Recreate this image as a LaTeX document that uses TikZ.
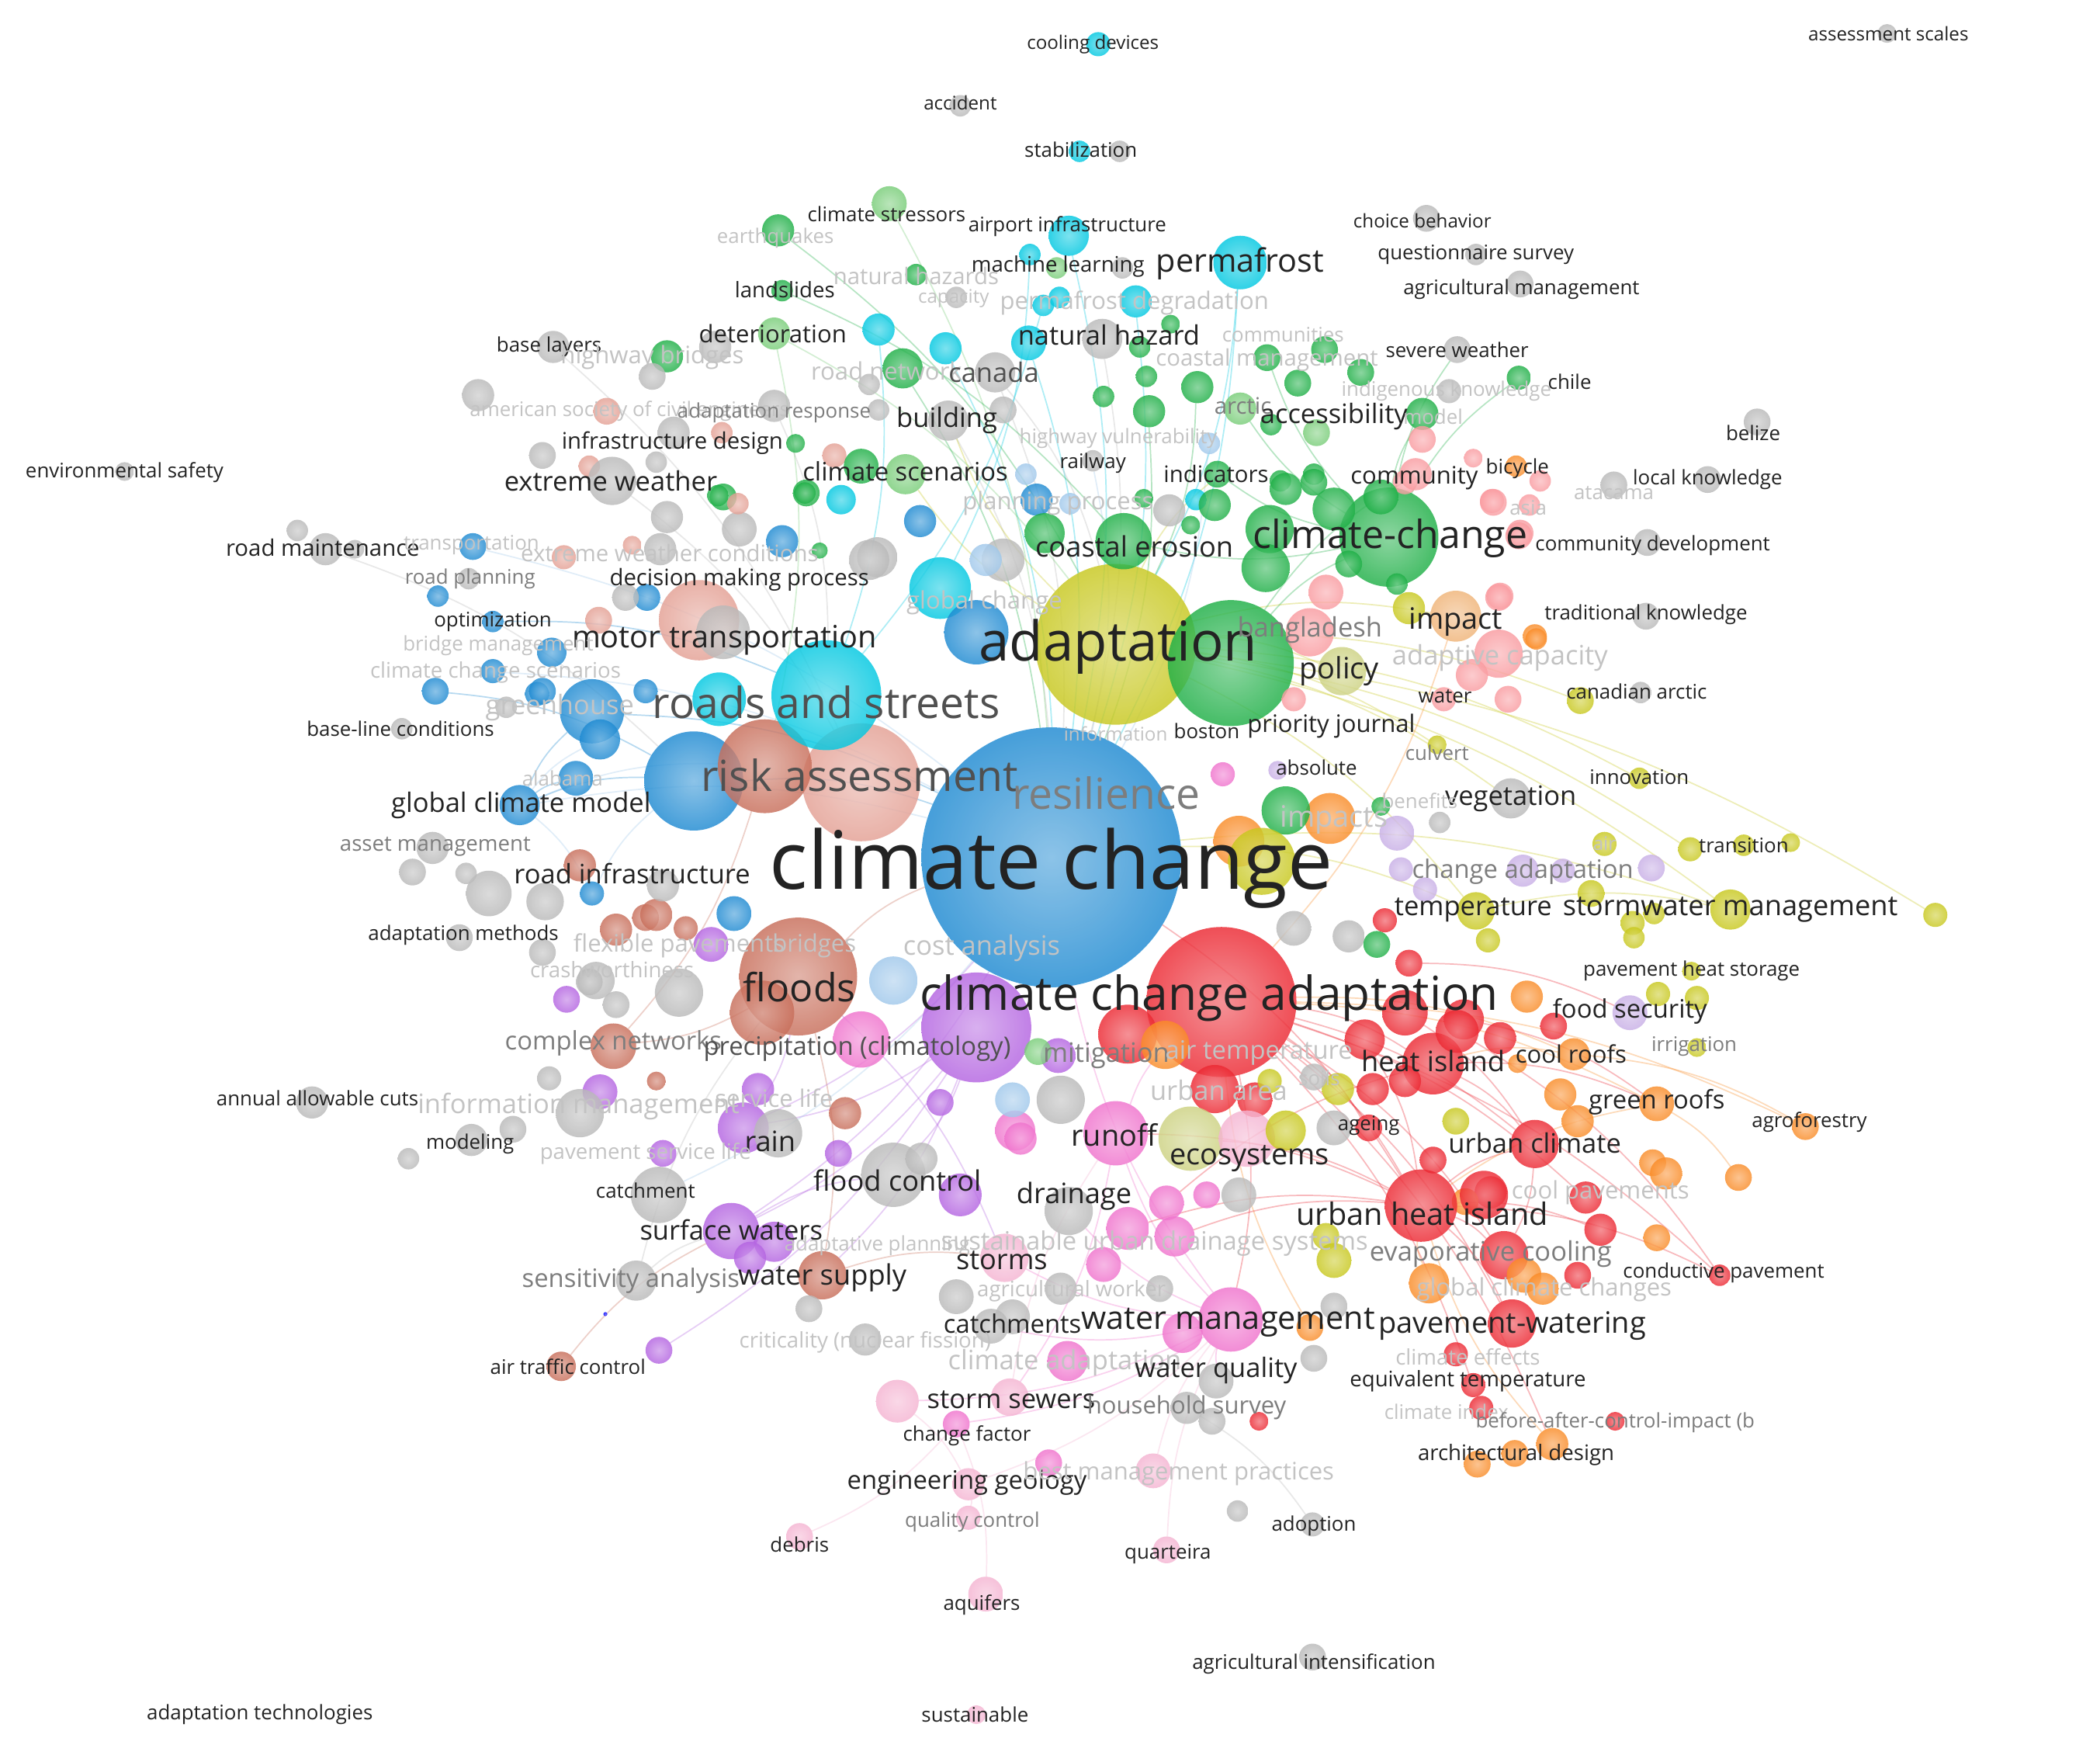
\documentclass[tikz,border=0pt]{standalone}
\usepackage{fontspec}
\setmainfont{Open Sans}
\definecolor{cR}{RGB}{236,40,50}
\definecolor{cO}{RGB}{250,140,40}
\definecolor{cY}{RGB}{200,200,30}
\definecolor{cYL}{RGB}{205,210,130}
\definecolor{cLO}{RGB}{240,180,120}
\definecolor{cG}{RGB}{30,175,70}
\definecolor{cLG}{RGB}{120,205,120}
\definecolor{cC}{RGB}{0,200,225}
\definecolor{cB}{RGB}{30,138,210}
\definecolor{cLB}{RGB}{160,200,235}
\definecolor{cP}{RGB}{180,100,225}
\definecolor{cLV}{RGB}{200,175,230}
\definecolor{cPk}{RGB}{240,115,205}
\definecolor{cLP}{RGB}{245,180,210}
\definecolor{cS}{RGB}{250,155,160}
\definecolor{cBr}{RGB}{200,110,90}
\definecolor{cLBr}{RGB}{228,160,148}
\definecolor{cGr}{RGB}{185,185,185}
\definecolor{tD}{RGB}{35,35,35}
\definecolor{tS}{RGB}{80,80,80}
\definecolor{tM}{RGB}{125,125,125}
\definecolor{tF}{RGB}{195,195,195}
\pgfdeclarelayer{bglayer}
\pgfdeclarelayer{edgelayer}
\pgfsetlayers{bglayer,edgelayer,main}
\begin{document}
\begin{tikzpicture}[x=0.5pt,y=-0.5pt,
  bub/.style={circle,inner sep=0pt,outer sep=0pt,fill opacity=0.82},
  lbl/.style={inner sep=0pt,anchor=center},
  edge/.style={line width=0.5pt,draw opacity=0.32}]
\begin{pgfonlayer}{bglayer}
\fill[white] (0,0) rectangle (1568,1315);
\end{pgfonlayer}
\useasboundingbox (0,0) rectangle (1568,1315);
% ---------------- bubbles ----------------
\foreach \nm/\px/\py/\rr/\bcol in {
cc/785/640/97/cB, ad/833/481/60/cY, gn/919/495/47/cG, cca/912/748/56/cR,
ra3/643/584/44/cLBr, ra1/518/583/37/cB, ra2/571/572/35/cBr, rs/617/519/41/cC,
fl/596/729/44/cBr, pr/729/767/41/cP, ccg/1037/401/37/cG, mt/522/463/30/cLBr,
g1/540/472/20/cGr, c1/537/522/20/cC, bl1/442/531/24/cB, bl2/448/552/15/cB, bl3/430/581/13/cB,
gcm/388/601/15/cB, cy1/702/439/23/cC, tb1/729/472/24/cB, bl4/584/404/12/cB, bl5/687/389/12/cB,
cy2/628/373/11/cC, g2/540/371/10/cG, g3/602/368/10/cG, g4/612/411/6/cG, gr1/655/416/15/cGr,
bl6/412/487/11/cB, bl7/368/501/9/cB, bl8/401/518/9/cB, bl9/482/516/9/cB, bl10/353/408/10/cB,
bl11/368/464/8/cB, bl12/327/445/8/cB, bl13/325/516/10/cB, bl14/405/516/10/cB,
sa1/421/416/9/cLBr, sa2/472/407/7/cLBr, gr2/498/386/12/cGr, gr3/552/395/13/cGr,
br1/482/685/10/cBr, br2/460/694/12/cBr, br3/433/646/12/cBr, br4/512/693/9/cBr, br5/490/683/12/cBr,
bl15/548/682/13/cB, bl16/442/667/9/cB, pu1/531/705/13/cP, pu2/423/746/10/cP,
gr5/365/667/17/cGr, gr6/407/673/14/cGr, gr7/445/732/14/cGr, gr8/507/741/18/cGr, gr9/495/661/12/cGr,
pk1/643/776/21/cPk, lb1/667/732/18/cLB, br6/569/756/24/cBr,
gr10/308/651/10/cGr, gr11/348/652/8/cGr, gr12/323/633/12/cGr, gr13/343/700/10/cGr, gr14/405/711/10/cGr,
gr15/440/733/10/cGr, gr16/460/750/10/cGr, brcn/458/781/17/cBr, pu3/448/815/13/cP, sa3/490/807/7/cBr,
gr17/433/831/18/cGr, gr18/410/805/9/cGr, gr19/233/823/12/cGr, gr20/352/851/12/cGr, gr21/383/843/10/cGr,
gr22/305/865/8/cGr, pu4/555/842/19/cP, pu5/566/813/12/cP, gr23/581/846/18/cGr, pu6/495/861/10/cP,
gr24/492/892/21/cGr, pu7/546/919/21/cP, pu8/578/927/15/cP, pu9/560/939/12/cP, br7/614/952/18/cBr,
gr25/475/956/15/cGr, pu10/492/1008/10/cP, br8/419/1020/11/cBr, gr26/667/877/24/cGr,
pu11/717/892/16/cP, pu12/702/823/10/cP, pu13/626/861/10/cP, gr27/646/1000/12/cGr, gr28/714/968/13/cGr,
gr29/756/983/13/cGr, br9/631/831/12/cBr, pk2/750/939/18/cLP, pk3/758/844/15/cPk, lb2/756/821/13/cLB,
gr30/688/865/12/cGr, pk4/797/1016/15/cPk,
pk5/990/442/13/cS, bang/978/472/18/cS, pk6/1120/445/10/cS, acap/1119/488/18/cS, pk8/1099/504/12/cS,
pk9/1126/522/10/cS, pk10/1078/522/9/cS, pk11/966/522/9/cS, pk12/1114/374/9/cS, pk13/1049/360/9/cS,
pk14/1135/398/10/cS, pol/1002/501/18/cYL, ol1/1052/454/12/cY, imp/1087/460/19/cLO, or1/1146/475/9/cO,
canar/1180/523/10/cY, culv/1073/556/7/cY, abs/954/575/7/cLV, mg1/913/578/9/cPk, veg/1128/596/15/cGr,
gr31/1075/614/8/cGr, impo/993/611/19/cO, or2/925/628/19/cO, g5/960/605/18/cG, g6/1031/602/7/cG,
ol2/942/643/25/cY, lv1/1043/622/13/cLV, lv2/1046/649/9/cLV, lv3/1064/664/9/cLV, lv4/1137/650/12/cLV,
lv5/1167/650/9/cLV, lv6/1233/648/10/cLV, airn/1198/630/9/cY, ol3/1188/667/10/cY, temp/1102/680/14/cY,
ol4/1111/702/9/cY, r1/1034/687/9/cR, gr32/966/693/13/cGr, gr33/1007/699/12/cGr, g7/1028/705/10/cG,
or3/1140/744/12/cO, r2/1049/756/17/cR, r3/1093/761/15/cR, r4/1019/776/15/cR, r5/1052/719/10/cR,
r6/1160/766/10/cR, inno/1224/581/8/cY, trans/1262/634/9/cY, ol5/1302/631/8/cY, ol6/1337/629/7/cY,
sm/1292/679/15/cY, ol7/1219/689/9/cY, ol8/1220/700/8/cY, ol9/1235/682/8/cY, ol10/1445/683/9/cY,
phs/1263/725/7/cY, ol11/1238/742/9/cY, ol12/1267/745/9/cY, food/1217/756/13/cLV, irr/1267/782/7/cY,
cr/1175/787/12/cO, or4/1133/794/7/cO, hi/1070/794/23/cR, r7/1088/770/16/cR, r8/1120/775/12/cR,
r9/1025/813/12/cR, r10/1049/807/12/cR, or5/1165/817/12/cO, or6/1178/837/12/cO, grf/1237/824/13/cO,
ol13/1087/837/10/cY, uc/1146/854/18/cR, r11/1070/866/10/cR, agro/1348/841/10/cO, or7/1234/868/10/cO,
or8/1244/876/12/cO, or9/1298/879/10/cO, r12/1184/894/12/cR, r13/1195/918/12/cR, or10/1237/924/10/cO,
r14/1113/890/12/cR, or11/1094/897/10/cO, uhi/1061/900/27/cR, r15/1108/892/18/cR, cond/1284/952/8/cR,
r17/1178/952/10/cR, ol14/990/923/10/cY, ol15/996/941/13/cY, evap/1123/937/18/cR, or12/1067/958/15/cO,
or13/1138/952/13/cO, or14/1152/962/12/cO, pw/1129/988/18/cR, or15/978/991/10/cO, gr34/981/1014/10/cGr,
gr35/996/975/10/cGr, wm/919/985/24/cPk, pk15/883/995/15/cPk, r18/1087/1011/9/cR, r19/1100/1034/9/cR,
r20/1106/1051/9/cR, r21/1206/1061/7/cR, arch1/1103/1093/10/cO, arch2/1131/1085/10/cO, arch3/1159/1078/12/cO,
r22/842/772/22/cR, uar/907/813/18/cR, r23/937/821/13/cR, ol16/999/813/12/cY, gr36/981/804/10/cGr,
ol17/948/807/9/cY, run/833/846/24/cPk, eco/889/850/24/cYL, lp1/931/850/21/cLP, ol18/960/844/15/cY,
age/1022/842/10/cR, gr37/996/842/13/cGr, pk16/871/898/13/cPk, pk17/842/917/16/cPk, pk18/877/923/15/cPk,
pk19/901/892/10/cPk, pk20/824/944/13/cPk, pk21/762/850/12/cPk, gr38/792/821/18/cGr, gr39/798/904/18/cGr,
gr40/925/892/13/cGr, gr41/792/962/12/cGr, gr42/866/962/10/cGr, pu14/790/788/13/cP, lg1/775/785/10/cLG,
or16/870/780/18/cO,
ss1/670/1046/16/cLP, ss2/754/1043/14/cLP, chf/714/1063/10/cPk, mg2/783/1092/10/cPk, eg/723/1108/12/cLP,
qc/723/1133/9/cLP, bmp/861/1098/13/cLP, deb/597/1147/10/cLP, aqu/736/1190/13/cLP, quar/871/1157/10/cLP,
adop/980/1138/9/cGr, gr43/924/1128/8/cGr, agri/980/1237/10/cGr, sust/729/1280/7/cLP, hs1/886/1051/12/cGr,
hs2/905/1061/10/cGr, r24/940/1061/7/cR, wq/908/1031/13/cGr, gr45/604/977/10/cGr, catc/740/990/13/cGr,
cool/820/33/9/cC, acc/717/79/8/cGr, stab1/806/113/8/cC, stab2/836/113/8/cGr, assess/1409/25/7/cGr,
cst/664/152/13/cLG, eq/581/172/12/cG, lsl/584/217/8/cG, nhz/684/205/8/cG, cap/714/222/8/cGr,
air1/798/176/15/cC, cy3/769/190/8/cC, lg2/789/200/8/cLG, gr47/838/200/8/cGr, pf/926/196/20/cC,
cy4/779/228/8/cC, cy5/791/222/8/cC, cy6/848/225/12/cC, g8/874/242/7/cG, det/578/249/12/cLG,
gr48/534/259/12/cGr, cy7/656/246/12/cC, cy8/706/260/12/cC, nh1/768/256/13/cC, nh2/823/253/15/cGr,
g9/851/259/8/cG, g10/674/275/15/cG, can/743/278/15/cGr, gr49/649/287/8/cGr, gr50/656/306/8/cGr,
gr51/578/303/12/cGr, bld/708/314/15/cGr, gr52/749/306/10/cGr, g11/824/296/8/cG, g12/858/307/12/cG,
g13/856/281/8/cG, g14/894/289/12/cG, arc/926/305/12/cLG, g15/949/317/8/cG, g16/946/267/10/cG,
g17/989/261/10/cG, g18/1016/278/10/cG, g19/969/286/10/cG, lg3/983/323/10/cLG, g20/594/331/7/cG,
sa4/539/323/8/cLBr, sa5/623/340/9/cLBr, g21/643/348/13/cG, lg4/676/354/15/cLG, g22/601/368/8/cG,
g23/536/370/8/cG, sa6/551/376/8/cLBr, lc1/766/354/8/cLB, bl17/774/373/12/cB, lb3/799/376/8/cLB,
rail/816/344/8/cGr, lb4/903/331/8/cLB, ind/909/354/10/cG, g24/956/359/8/cG, g25/981/354/8/cG,
cy10/893/373/8/cC, g26/854/372/7/cG, gr53/873/381/12/cGr, gr54/649/418/15/cGr, gr55/749/418/16/cGr,
lb5/736/418/12/cLB, g27/780/398/15/cG, ce/839/404/21/cG, g29/889/392/7/cG, g30/907/377/12/cG,
g31/948/395/18/cG, g32/945/424/18/cG, g33/996/380/16/cG, g34/1007/421/10/cG, g35/1043/436/8/cG,
g36/960/365/12/cG, g37/981/360/10/cG, g38/1031/371/13/cG, acc1/1062/309/12/cG, pk22/1062/328/10/cS,
chile/1134/282/9/cG, gr56/1082/292/9/cGr, sev/1088/261/10/cGr, agm/1135/212/10/cGr, qs/1102/190/8/cGr,
chb/1065/163/10/cGr, bel/1312/315/10/cGr, lk/1275/358/10/cGr, ata/1205/362/10/cGr, bic/1132/348/8/cO,
pk23/1100/342/7/cS, pk24/1150/359/8/cS, pk25/1115/375/10/cS, pk26/1142/377/8/cS, pk27/1057/354/12/cS,
pk28/1134/400/10/cS, cdev/1230/405/10/cGr, pk29/1119/446/10/cS, or17/1147/477/8/cO, tk/1229/460/10/cGr,
gr57/1225/517/8/cGr,
bla/413/259/12/cGr, g39/498/266/12/cG, gr58/487/281/10/cGr, gr59/357/295/12/cGr, sa7/453/307/10/cLBr,
gr60/503/323/12/cGr, gr61/490/345/8/cGr, gr62/405/340/10/cGr, sa8/440/348/8/cLBr, gr63/457/359/18/cGr,
gr65/493/410/12/cGr, env/93/352/7/cGr, rm1/222/396/8/cGr, rm2/243/410/12/cGr, rm3/265/410/7/cGr,
gr66/350/432/8/cGr, bl19/483/446/10/cB, gr67/467/446/10/cGr, sa10/447/463/10/cLBr, gr68/378/528/8/cGr,
blc/300/544/8/cGr, dot/452/981/1.5/blue}
{\node[bub,minimum size=\rr pt,shading=radial,inner color=\bcol!62!white,outer color=\bcol] (\nm) at (\px,\py) {};}
% ---------------- connectors ----------------
\begin{pgfonlayer}{edgelayer}
\foreach \ea/\eb/\ecol in {
gcm/ra1/cB, gcm/bl1/cB, gcm/cc/cLB, gcm/bl3/cB, gcm/ra2/cLB, bl1/cc/cB, bl13/ra1/cB, bl11/rs/cB,
bl10/cc/cLB, ra1/cc/cB, gcm/bl2/cLB, gcm/bl16/cLB, bl16/ra1/cLB, bl7/cc/cLB,
pf/cc/cC, pf/ad/cC, nh1/cc/cC, cy7/rs/cC, cy8/cc/cC, air1/cc/cC, cy6/cc/cC, cy4/rs/cC, cy3/cy1/cC,
rail/cc/cLB, lb4/cc/cLB, can/cc/cGr, bld/cc/cGr, can/ad/cGr, det/ra2/cLG, gr63/ra3/cGr, rm2/ra1/cGr,
gr25/fl/cGr, hs1/adop/cGr, gr51/rs/cGr, nh2/cc/cGr, bla/ra3/cGr,
ad/sm/cY, ad/temp/cY, ad/trans/cY, ad/inno/cY, ad/culv/cY, ad/canar/cY, ad/veg/cY, ad/imp/cY,
ad/pol/cY, ad/lg4/cY, ad/bld/cY, ad/ce/cY, ad/ind/cY, temp/sm/cY, cc/sm/cY, ad/ol10/cY, cc/temp/cY,
ccg/chile/cG, ccg/sev/cG, ccg/ind/cG, ccg/arc/cG, ccg/acc1/cG, ccg/ce/cG, ccg/g16/cG, gn/ccg/cG,
cst/cc/cLG, lsl/ce/cG, det/ad/cLG, g10/cc/cG, g12/cc/cG, g14/ad/cG, eq/ad/cG, gn/pk27/cG,
cca/uhi/cR, cca/hi/cR, cca/uc/cR, cca/pw/cR, cca/evap/cR, cca/r19/cR, cca/arch3/cR, cca/cond/cR,
cca/age/cR, cca/r12/cR, cc/uhi/cR, hi/uc/cR, hi/grf/cR, uhi/uc/cR, uhi/pw/cR, uhi/evap/cR, uhi/cond/cR,
uhi/r13/cR, r2/uc/cR, r3/grf/cR, r4/uhi/cR, cca/wm/cR, uc/evap/cR, r7/cond/cR, run/uhi/cR, eco/uhi/cR,
cca/grf/cO, cca/cr/cO, cca/agro/cO, uhi/grf/cO, hi/cr/cO, imp/cca/cO, or12/uhi/cO, arch3/uhi/cO,
or15/cca/cO, grf/or9/cO, cr/agro/cO, r5/food/cR,
wm/run/cPk, wm/ss1/cPk, wm/pk2/cPk, wm/gr39/cPk, wm/chf/cPk, wm/eg/cLP, wm/catc/cPk, run/ss2/cPk,
wm/cc/cPk, run/cca/cPk, pk17/uhi/cR, pk18/uhi/cR, pk16/hi/cR, ss1/eg/cLP, chf/aqu/cLP, chf/deb/cLP,
eg/qc/cLP, bmp/wm/cLP, quar/wm/cLP, ss2/run/cLP, wq/wm/cPk,
pr/pu4/cP, pr/pu7/cP, pr/gr26/cP, pr/br7/cP, pr/pu10/cP, fl/pu4/cP, cc/pu7/cP, cc/pu4/cP,
cc/gr24/cLB, fl/pk2/cP, pu7/gr26/cP, fl/brcn/cBr, fl/br7/cBr, ra2/brcn/cBr, fl/cc/cBr, br8/pu7/cBr,
br7/pk2/cBr, gr25/pu7/cGr}
{\draw[edge,\ecol] (\ea) to[bend left=12] (\eb);}
\end{pgfonlayer}
% ---------------- labels ----------------
\foreach \nm/\px/\py/\fsz/\shd/\lt in {
Lcool/816/33/7/D/cooling devices, Lacc/717/77/7/D/accident, Lstab/807/112/7.5/D/stabilization,
Lass/1410/25/7/D/assessment scales, Lcst/662/160/7.5/D/climate stressors,
Lair/797/169/7.5/D/airport infrastructure, Leq/579/178/7.5/F/earthquakes, Lchb/1062/165/7/D/choice behavior,
Lqs/1102/190/7.5/D/questionnaire survey, Lml/790/199/8/D/machine learning, Lpf/926/197/12/D/permafrost,
Llsl/586/216/8/D/landslides, Lnhz/684/206/8.5/F/natural hazards, Lcap/712/223/7/F/capacity,
Lagm/1136/216/7.5/D/agricultural management, Lpfd/847/226/9/F/permafrost degradation,
Ldet/577/249/9/D/deterioration, Lnh/828/250/10/D/natural hazard, Lcom/958/250/7.5/F/communities,
Lbl/410/259/7.5/D/base layers, Lhb/487/267/9/F/highway bridges, Lsev/1088/261/7.5/D/severe weather,
Lcm/946/269/8.5/F/coastal management, Lrn/662/277/9/F/road network, Lcan/742/278/10/S/canada,
Lchile/1172/285/7.5/D/chile, Likn/1080/292/7.5/F/indigenous knowledge,
Lasce/470/307/7.5/F/american society of civil engineers, Lar/578/308/7.5/M/adaptation response,
Lbld/707/314/10/D/building, Larc/928/303/8.5/M/arctic, Laccs/996/311/10/D/accessibility,
Lmod/1070/311/7.5/F/model, Lbel/1309/323/7.5/D/belize, Lid/502/331/8.5/D/infrastructure design,
Lhv/835/327/7.5/F/highway vulnerability, Lrail/816/346/7.5/D/railway, Lclsc/676/352/9.5/D/climate scenarios,
Lind/908/354/8.5/D/indicators, Lcomm/1056/357/9/D/community, Lbic/1133/350/7.5/D/bicycle,
Lew/456/359/10/D/extreme weather, Lata/1205/368/7.5/F/atacama, Llk/1275/358/7.5/D/local knowledge,
Lasia/1141/379/7.5/F/asia, Lpp/790/376/9/F/planning process, Lrm/241/409/8.5/D/road maintenance,
Ltr/352/407/7.5/F/transportation, Lewc/500/413/8.5/F/extreme weather conditions,
Lce/847/408/10.5/D/coastal erosion, Lccg/1038/402/14.5/D/climate-change,
Lcdev/1234/407/7.5/D/community development, Lrp/351/432/7.5/M/road planning,
Ldmp/552/433/8.5/D/decision making process, Lopt/368/464/7.5/D/optimization,
Lmt/541/478/11.5/D/motor transportation, Lgc/735/450/9/F/global change, Lad/835/483/20.5/D/adaptation,
Lbang/978/470/10/M/bangladesh, Limp/1087/464/11/D/impact, Ltk/1229/459/7.5/D/traditional knowledge,
Lbm/372/482/7.5/F/bridge management, Lccs/370/502/8/F/climate change scenarios,
Lacap/1120/491/10/F/adaptive capacity, Lgh/418/528/10/F/greenhouse, Lrs/617/524/16/S/roads and streets,
Lpol/1000/501/11/D/policy, Lwat/1079/520/7.5/D/water, Lca/1222/516/7.5/D/canadian arctic,
Lblc/299/544/7.5/D/base-line conditions, Linf/833/548/7/F/information, Lbos/901/546/7.5/D/boston,
Lpj/994/542/9/D/priority journal, Lculv/1073/562/7.5/M/culvert, Labs/983/573/7.5/D/absolute,
Lra/642/579/16/S/risk assessment, Lres/826/592/16/M/resilience, Lala/420/581/7.5/F/alabama,
Linno/1224/580/7.5/D/innovation, Lveg/1128/596/10/D/vegetation, Lgcm/389/601/10/D/global climate model,
Lben/1060/598/7.5/F/benefits, Limps/996/612/11/F/impacts, Lam/325/632/8/M/asset management,
Ltrans/1302/631/7.5/D/transition, Lairr/1198/630/7/F/air, Lcc/785/648/30/D/climate change,
Lcad/1137/651/9.5/M/change adaptation, Lri/472/652/10/D/road infrastructure,
Ltemp/1100/679/10/D/temperature, Lsm/1292/679/10.5/D/stormwater management,
Lamth/346/698/7.5/D/adaptation methods, Lfp/507/706/9/F/flexible pavements, Lbr/608/706/9/F/bridges,
Lcost/733/708/10/F/cost analysis, Lcw/457/724/8/F/crashworthiness, Lphs/1263/725/7.5/D/pavement heat storage,
Lfl/597/737/14.5/D/floods, Lcca/903/745/17.5/D/climate change adaptation, Lfood/1217/755/9.5/D/food security,
Lcn/458/779/9.5/M/complex networks, Lprec/640/783/9.5/S/precipitation (climatology),
Lmit/826/788/10/M/mitigation, Latemp/940/786/9.5/F/air temperature, Lhi/1070/792/10.5/D/heat island,
Lcr/1173/787/9/D/cool roofs, Lirr/1265/781/7.5/M/irrigation, Lua/910/814/10/F/urban area,
Lsoil/985/805/7.5/F/soils, Laac/237/820/7.5/D/annual allowable cuts, Lim/432/826/10/F/information management,
Lsl/578/820/9/F/service life, Lgrf/1237/823/9.5/D/green roofs, Lagro/1351/838/7.5/D/agroforestry,
Lage/1022/840/7.5/D/ageing, Lrun/832/847/11/D/runoff, Lmod2/351/854/7.5/D/modeling, Lrain/575/852/10.5/D/rain,
Lpsl/482/861/8/F/pavement service life, Luc/1146/853/10/D/urban climate, Leco/933/865/11/D/ecosystems,
Lfc/670/881/10.5/D/flood control, Lcatch/482/889/7.5/D/catchment, Lcp/1195/890/9/F/cool pavements,
Ldr/802/893/10.5/D/drainage, Luhi/1062/906/11.5/D/urban heat island, Lsw/546/918/10/D/surface waters,
Lap/655/930/7.5/F/adaptative planning, Lsuds/862/928/9.5/F/sustainable urban drainage systems,
Levap/1113/936/10/M/evaporative cooling, Lstorms/748/941/10.5/D/storms, Lcond/1287/950/7.5/D/conductive pavement,
Lsa/471/956/9.5/M/sensitivity analysis, Lws/614/954/10.5/D/water supply, Lgcc/1153/963/9/F/global climate changes,
Law/800/964/8/F/agricultural worker, Lcatchs/756/988/9.5/D/catchments, Lwm/917/987/12/D/water management,
Lpw/1129/990/11/D/pavement-watering, Lcrit/646/1002/8/F/criticality (nuclear fission),
Lcad2/795/1017/10/F/climate adaptation, Lcef/1096/1013/8/F/climate effects, Lwq/908/1023/10/D/water quality,
Latc/424/1020/7.5/D/air traffic control, Leqt/1096/1031/8/D/equivalent temperature,
Lss/755/1045/10/D/storm sewers, Lhs/886/1051/9/M/household survey, Lci/1080/1054/7.5/F/climate index,
Lbaci/1206/1062/7.5/M/before-after-control-impact (b, Lchf/722/1072/7.5/D/change factor,
Lad2/1132/1086/8/D/architectural design, Leg/722/1107/9.5/D/engineering geology,
Lbmp/880/1100/9/F/best management practices, Lqc/726/1136/7.5/M/quality control, Ladop/981/1139/7.5/D/adoption,
Ldeb/597/1153/7.5/D/debris, Lquar/872/1160/7.5/D/quarteira, Laqu/733/1198/7.5/D/aquifers,
Lai/981/1242/7.5/D/agricultural intensification, Ladt/194/1280/7.5/D/adaptation technologies,
Lsust/728/1280/7.5/D/sustainable, Lenv/93/353/7.5/D/environmental safety}
{\node[lbl,font=\fontsize{\fsz}{\fsz}\selectfont,text=t\shd] (\nm) at (\px,\py) {\lt};}
\end{tikzpicture}
\end{document}
